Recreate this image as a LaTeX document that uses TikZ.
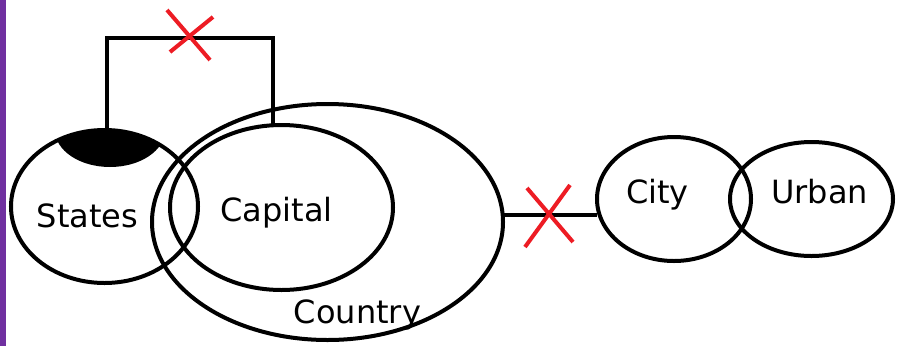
\documentclass[tikz,border=0pt]{standalone}
\usepackage{fontspec}
\setmainfont{DejaVu Sans}
\usetikzlibrary{shapes.geometric}
\definecolor{barpurple}{HTML}{7030A0}
\definecolor{xred}{HTML}{ED1C24}
\begin{document}
\begin{tikzpicture}[x=1pt,y=-1pt,
  blob/.style={ellipse,draw=black,line width=4pt,inner sep=0pt,outer sep=0pt},
  lbl/.style={anchor=base,inner sep=0pt,font=\fontsize{32}{38}\selectfont},
  link/.style={draw=black,line width=4pt},
  cross/.style={draw=xred,line width=4pt}]
\useasboundingbox (0,0) rectangle (897,346);
\fill[barpurple] (0,0) rectangle (6,346);
% ellipses
\node[blob,minimum width=351pt,minimum height=236pt] (country) at (327.5,222) {};
\node[blob,minimum width=187pt,minimum height=153pt] (states) at (104.5,206.5) {};
\node[blob,minimum width=223pt,minimum height=165pt] (capital) at (281.5,207.5) {};
\node[blob,minimum width=154pt,minimum height=124pt] (city) at (674,199) {};
\node[blob,minimum width=163pt,minimum height=114pt] (urban) at (811.5,199) {};
% black cap on States
\begin{scope}
  \clip (104.5,206.5) ellipse [x radius=93.5pt, y radius=76.5pt];
  \fill[black] (110,130) ellipse [x radius=55pt, y radius=37pt];
\end{scope}
% labels
\node[lbl] (tstates) at (87.5,227) {States};
\node[lbl] (tcapital) at (276.5,221) {Capital};
\node[lbl] (tcountry) at (357.5,323) {Country};
\node[lbl] (tcity) at (657.5,203) {City};
\node[lbl] (turban) at (819.5,203) {Urban};
% connectors
\coordinate (c1) at (107,38);
\coordinate (c2) at (273,38);
\draw[link] (states.north -| c1) -- (c1) -- (c2) -- (c2 |- capital.north);
\coordinate (lk) at (550,215);
\draw[link] (country.east |- lk) -- (city.west |- lk);
% red crosses
\coordinate (x1a) at (167,10); \coordinate (x1b) at (210,60);
\coordinate (x1c) at (213,17); \coordinate (x1d) at (170,52);
\draw[cross] (x1a) -- (x1b);
\draw[cross] (x1c) -- (x1d);
\coordinate (x2a) at (527,188); \coordinate (x2b) at (573,242);
\coordinate (x2c) at (570,185); \coordinate (x2d) at (525,247);
\draw[cross] (x2a) -- (x2b);
\draw[cross] (x2c) -- (x2d);
\end{tikzpicture}
\end{document}
